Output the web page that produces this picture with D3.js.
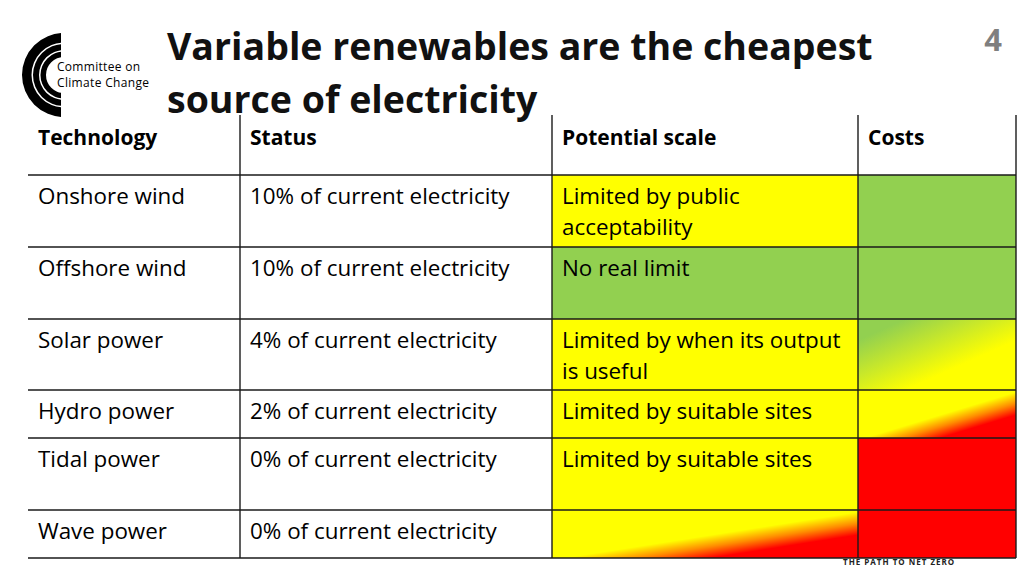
<!DOCTYPE html>
<html>
<head>
<meta charset="utf-8">
<script src="https://cdn.jsdelivr.net/npm/d3@7"></script>
<style>
  body { margin: 0; background: #fff; }
  svg { display: block; }
  text { font-family: "Open Sans", sans-serif; }
</style>
</head>
<body>
<svg id="chart" width="1024" height="576"></svg>
<script>
// table data
var columns = ["Technology", "Status", "Potential scale", "Costs"];
var technologies = ["Onshore wind", "Offshore wind", "Solar power", "Hydro power", "Tidal power", "Wave power"];
var statusText = ["10% of current electricity", "10% of current electricity", "4% of current electricity",
                  "2% of current electricity", "0% of current electricity", "0% of current electricity"];
var potentialText = [["Limited by public", "acceptability"], ["No real limit"],
                     ["Limited by when its output", "is useful"], ["Limited by suitable sites"],
                     ["Limited by suitable sites"], []];
// ratings: green / yellow / red, or a blend "from-to"
var potentialRating = ["yellow", "green", "yellow", "yellow", "yellow", "yellow-red"];
var costRating = ["green", "green", "green-yellow", "yellow-red", "red", "red"];

// layout
var colEdges = [28, 240, 552, 858, 1016];
var rowEdges = [175, 247, 319, 390, 438, 510, 558];
var headerTop = 115;

var colours = { green: "#92d050", yellow: "#ffff00", red: "#ff0000", orange: "#ff8c00" };

var svg = d3.select("#chart");
var defs = svg.append("defs");

// blend gradients (diagonal)
var blends = {
  "green-yellow": [[0.15, colours.green], [0.4, "#c8e82a"], [0.65, colours.yellow]],
  "yellow-red": [[0.52, colours.yellow], [0.64, colours.orange], [0.76, colours.red]]
};
Object.keys(blends).forEach(function(k) {
  var g = defs.append("linearGradient").attr("id", "g-" + k)
    .attr("x1", 0).attr("y1", 0).attr("x2", 1).attr("y2", 1);
  blends[k].forEach(function(s) {
    g.append("stop").attr("offset", s[0]).attr("stop-color", s[1]);
  });
});
function fillFor(r) {
  return blends[r] ? "url(#g-" + r + ")" : colours[r];
}

// title
svg.append("text").attr("x", 167).attr("y", 60)
  .attr("font-size", 37.5).attr("font-weight", "bold").attr("fill", "#111")
  .text("Variable renewables are the cheapest");
svg.append("text").attr("x", 167).attr("y", 113)
  .attr("font-size", 37.5).attr("font-weight", "bold").attr("fill", "#111")
  .text("source of electricity");

// page number
svg.append("text").attr("x", 993).attr("y", 51).attr("text-anchor", "middle")
  .attr("font-size", 31).attr("font-weight", "bold").attr("fill", "#7f7f7f")
  .text("4");

// logo
var logo = svg.append("g").attr("transform", "translate(64,75)");
logo.append("clipPath").attr("id", "logo-clip").append("rect")
  .attr("x", -50).attr("y", -50).attr("width", 47).attr("height", 100);
[[42, 32.5], [31, 25], [23.5, 18]].forEach(function(r) {
  logo.append("path")
    .attr("d", d3.arc()({ innerRadius: r[1], outerRadius: r[0], startAngle: 0, endAngle: -Math.PI }))
    .attr("clip-path", "url(#logo-clip)")
    .attr("fill", "#000");
});
svg.append("text").attr("x", 57).attr("y", 70.5).attr("font-size", 12).attr("fill", "#000")
  .attr("textLength", 83).text("Committee on");
svg.append("text").attr("x", 57).attr("y", 87).attr("font-size", 12).attr("fill", "#000")
  .attr("textLength", 92).text("Climate Change");

// footer tag (mostly hidden)
svg.append("text").attr("x", 843).attr("y", 565).attr("font-size", 8).attr("font-weight", "bold")
  .attr("fill", "#222").attr("letter-spacing", 1).text("THE PATH TO NET ZERO");

// cells
var rows = svg.append("g");
technologies.forEach(function(t, i) {
  var y0 = rowEdges[i], y1 = rowEdges[i + 1];
  rows.append("rect").attr("x", colEdges[2]).attr("y", y0)
    .attr("width", colEdges[3] - colEdges[2]).attr("height", y1 - y0)
    .attr("fill", fillFor(potentialRating[i]));
  rows.append("rect").attr("x", colEdges[3]).attr("y", y0)
    .attr("width", colEdges[4] - colEdges[3]).attr("height", y1 - y0)
    .attr("fill", fillFor(costRating[i]));

  var cells = [[t], [statusText[i]], potentialText[i]];
  cells.forEach(function(lines, c) {
    lines.forEach(function(l, j) {
      rows.append("text").attr("x", colEdges[c] + 10).attr("y", y0 + 29 + j * 31)
        .attr("font-size", 22.4).attr("fill", "#000").text(l);
    });
  });
});

// header
columns.forEach(function(c, i) {
  svg.append("text").attr("x", colEdges[i] + 10).attr("y", 145)
    .attr("font-size", 21).attr("font-weight", "bold").attr("fill", "#000").text(c);
});

// grid lines
svg.selectAll("line.h").data(rowEdges).enter().append("line")
  .attr("x1", colEdges[0]).attr("x2", colEdges[4])
  .attr("y1", function(d) { return d; }).attr("y2", function(d) { return d; })
  .attr("stroke", "#1a1a1a").attr("stroke-width", 1.6);
svg.selectAll("line.v").data(colEdges.slice(1)).enter().append("line")
  .attr("x1", function(d) { return d; }).attr("x2", function(d) { return d; })
  .attr("y1", headerTop).attr("y2", rowEdges[rowEdges.length - 1])
  .attr("stroke", "#1a1a1a").attr("stroke-width", 1.4);
</script>
</body>
</html>
